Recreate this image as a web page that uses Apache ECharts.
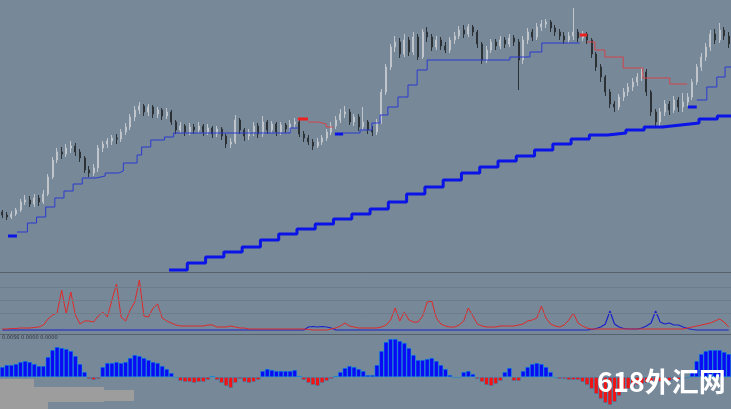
<!DOCTYPE html>
<html>
<head>
<meta charset="utf-8">
<script src="https://cdn.jsdelivr.net/npm/echarts@6/dist/echarts.min.js"></script>
<style>
html,body{margin:0;padding:0;background:#778899;}
#c{width:731px;height:409px;}
</style>
</head>
<body>
<div id="c"></div>
<script>
// ---- price candles (arbitrary price units) ----
const opens = [60,57,55,58,62,70,72,68,74,70, 78,95,112,120,118,124,126,120,114,102, 99,104,124,128,131,134,133,140,145,155,
162,166,160,165,158,162,156,160,150,142, 146,140,145,142,146,140,144,138,143,136, 128,130,152,142,136,140,146,138,150,142,
148,140,147,143,148,150,138,134,130,126, 130,134,140,146,152,158,160,150,155,145, 150,142,140,150,180,205,225,230,218,232,
220,235,215,240,235,225,232,226,222,232, 236,242,238,245,240,228,212,222,230,226, 232,228,234,230,212,232,240,235,245,248,
250,244,240,236,232,236,240,234,238,232, 218,205,195,180,168,165,175,180,185,190, 195,200,180,160,150,160,168,162,172,165,
170,175,190,205,215,225,238,232,242,236];
const closes = [57,55,58,62,70,72,68,74,70,78, 95,112,120,118,124,126,120,114,102,99, 104,124,128,131,134,133,140,145,155,162,
166,160,165,158,162,156,160,150,142,146, 140,145,142,146,140,144,138,143,136,128, 130,152,142,136,140,146,138,150,142,148,
140,147,143,148,150,138,134,130,126,130, 134,140,146,152,158,160,150,155,145,150, 142,140,150,180,205,225,230,218,232,220,
235,215,240,235,225,232,226,222,232,236, 242,238,245,240,228,212,222,230,226,232, 228,234,230,212,232,240,235,245,248,250,
244,240,236,232,236,240,234,238,232,218, 205,195,180,168,165,175,180,185,190,195, 200,180,160,150,160,168,162,172,165,170,
175,190,205,215,225,238,232,242,236,228];
const lows = [54,52,53,56,60,67,65,65,66,68, 76,93,109,113,115,119,116,110,99,95, 96,100,120,124,127,128,130,137,142,151,
158,156,156,154,154,152,153,147,138,139, 136,137,138,139,136,137,134,135,132,124, 124,128,138,131,132,136,134,135,138,139,
136,137,139,140,144,135,130,127,122,124, 127,131,137,143,149,154,147,146,141,142, 138,136,137,148,177,202,220,214,215,216,
217,212,213,230,221,222,222,219,219,228, 233,234,235,236,224,208,209,219,222,223, 224,225,226,182,208,228,231,232,241,244,
240,236,232,228,229,232,230,231,228,214, 201,190,176,164,160,162,171,176,181,186, 191,176,156,145,146,156,157,159,160,160,
166,172,187,201,211,221,228,229,232,224];
const highs = [62,60,61,64,73,77,76,78,77,82, 98,115,124,125,128,131,129,123,116,106, 108,127,131,134,137,138,143,149,158,166,
170,168,168,167,165,164,164,162,152,150, 148,149,148,150,148,148,146,146,145,138, 134,157,154,144,143,150,149,156,152,151,
150,150,149,152,154,153,141,137,133,134, 137,143,150,156,163,166,163,158,158,165, 152,146,153,183,208,228,236,234,238,235,
240,238,243,245,238,236,235,230,235,240, 246,247,248,247,242,230,226,233,233,236, 235,238,237,233,236,244,243,249,252,253,
252,247,243,240,240,264,243,241,240,234, 220,208,197,183,171,178,184,189,194,199, 204,203,182,163,164,172,171,176,175,179,
179,193,208,219,229,242,243,249,245,240];

// ---- trailing stop lines: [bar position, level] ----
const blueThickA = [[1.75,36],[3.7,36]];
const blueTrailA = [[3.7,40],[6,49],[8,55],[10,65],[12,74],[14,81],[16,88],[18,94],[21,96],[23,99],[26,101],[27,109],[30,117],[31,125],[33,132],[36,135],[38,139],[63.5,144],[65.2,144]];
const redThickA = [[65.2,153],[67.4,153]];
const redTrailA = [[67.4,150],[69.6,148],[71.4,145],[72.9,145]];
const blueThickB = [[73.3,138],[75.1,138]];
const blueTrailB = [[75.1,139],[78.8,142],[81.4,149],[83.2,157],[84.9,165],[87.1,175],[89.3,187],[91.3,202],[93.5,212],[111.6,215],[116,220],[118.6,229],[126.9,229]];
const redThickB = [[126.9,237],[128.5,237]];
const redTrailB = [[128.5,230],[130.2,222],[132.4,215],[136.4,204],[140.7,194],[146.6,188],[150.4,188]];
const blueThickC = [[150.6,165],[152.5,165]];
const blueTrailC = [[152.5,172],[154.7,185],[156.9,195],[158.7,205],[160,205]];

// ---- long-term stop line ----
const longStepBars = [37,41,45,49,53,57,61,65,69,73,77,81,85,89,93,97,101,105,109,113,117,121,125,129,133,137,141,145,149,153,157];
const longStepLevels = [2,9,15,20,25,32,38,43,48,53,58,63,70,78,85,92,99,105,111,116,122,128,133,137,139,142,145,147,149,153,156];
const longStepEnd = 160;

// ---- middle indicator ----
const redLine = [1,1,1.5,1.5,2,2,2,2.5,3,5, 11,15,17,40,16,38,15,6,9,9, 8,14,18,13,30,46,13,9,20,28,
50,14,13,22,26,12,9,7,5,4, 4,4,4,4,4,5,5,3,3,3, 4,3,2,2,1,1,1,1,1,1,
1,1,1,1,1,1,1,0.5,0,0, 0,0,1,2,4,7,4,3,2,2, 2,2,2,3,5,10,22,9,18,10,
8,8,14,28,29,12,6,4,3,3, 5,9,22,14,6,4,3,3,3,4, 4,4,4,5,6,9,10,12,24,12,
6,4,3,5,10,17,7,4,2,1, 1,1,1,1,1,1,1,1,1,1, 1,1,1,1,1,1,1,1,1,1,
2,3,4,5,6,7,9,11,8,3];
const blueLine = [0,0,0,0,0,0,0,0,0,0, 0,0,0,0,0,0,0,0,0,0, 0,0,0,0,0,0,0,0,0,0,
0,0,0,0,0,0,0,0,0,0, 0,0,0,0,0,0,0,0,0,0, 0,0,0,0,0,0,0,0,0,0,
0,0,0,0,0,0,0,3,3.5,3, 3.5,3,2,0,0,0,0,0,0,0, 0,0,0,0,0,0,0,0,0,0,
0,0,0,0,0,0,0,0,0,0, 0,0,0,0,0,0,0,0,0,0, 0,0,0,0,0,0,0,0,0,0,
0,0,0,0,0,0,0,0,0,0.5, 1.5,3,6,19,6,3,1.5,1,1,1, 2,4,7,19,8,6,7,5,5,3,
1.5,0.5,0,0,0,0,0,0,0,0];
const midLevels = [17,30,43];

// ---- histogram ----
const hist = [10,12,12,13,15,16,15,13,11,11, 20,27,30,29,28,26,21,13,5,-2, -3,-2,10,14,14,15,14,15,19,22,
21,19,17,15,14,11,8,4,-1,-4, -5,-5,-6,-5,-5,-3,1,-3,-6,-9, -11,-6,-2,-5,-6,-5,-3,6,8,7,
6,6,6,6,7,1,-3,-6,-8,-9, -6,-4,-2,1,5,9,11,10,8,6, 2,2,12,26,35,38,38,36,34,29,
22,17,17,18,19,16,12,8,2,-1, -1,5,6,3,-2,-5,-8,-9,-7,-4, 5,9,-4,-4,6,10,13,14,13,10,
5,-1,-2,-2,-3,-3,-3,-5,-8,-12, -17,-22,-26,-28,-25,-19,-15,-12,-10,-8, -7,-6,-6,-5,-5,-4,-4,-3,-3,-2,
-1,6,16,23,26,27,27,27,25,23];

const indicatorLabel = '0.0056 0.0000 0.0000';
const watermark = '618外汇网';

const cats = closes.map((_, i) => i);
const candleData = closes.map((c, i) => [opens[i], c, lows[i], highs[i]]);
const longData = longStepBars.map((b, k) => [b, longStepLevels[k]]).concat([[longStepEnd, longStepLevels[longStepLevels.length - 1]]]);

const sepColor = '#56616c';
function stepLine(data, color, width) {
  return { type: 'line', xAxisIndex: 1, yAxisIndex: 0, data: data, step: 'end', symbol: 'none',
    lineStyle: { color: color, width: width }, z: 5, silent: true };
}
const hidden = { show: false };

const chart = echarts.init(document.getElementById('c'), null, { renderer: 'canvas' });
chart.setOption({
  animation: false,
  backgroundColor: '#778899',
  grid: [
    { left: 0, right: 0, top: 0, height: 273 },
    { left: 0, right: 0, top: 274, height: 60 },
    { left: 0, right: 0, top: 335, height: 74 }
  ],
  xAxis: [
    { type: 'category', gridIndex: 0, data: cats, boundaryGap: true,
      axisLine: { show: true, lineStyle: { color: sepColor, width: 1 } }, axisTick: hidden, axisLabel: hidden, splitLine: hidden },
    { type: 'value', gridIndex: 0, min: 0, max: 160, show: false },
    { type: 'category', gridIndex: 1, data: cats, boundaryGap: true,
      axisLine: { show: true, onZero: false, lineStyle: { color: sepColor, width: 1 } }, axisTick: hidden, axisLabel: hidden, splitLine: hidden },
    { type: 'category', gridIndex: 2, data: cats, boundaryGap: true,
      axisLine: { show: false }, axisTick: hidden, axisLabel: hidden, splitLine: hidden }
  ],
  yAxis: [
    { type: 'value', gridIndex: 0, min: -1, max: 272, show: false },
    { type: 'value', gridIndex: 1, min: -4, max: 56, show: false },
    { type: 'value', gridIndex: 2, min: -32, max: 42, show: false }
  ],
  series: [
    { type: 'candlestick', xAxisIndex: 0, yAxisIndex: 0, data: candleData, barWidth: 1.5,
      itemStyle: { color: '#bfc5cb', color0: '#2c3136', borderColor: '#bfc5cb', borderColor0: '#2c3136', borderWidth: 1 } },
    stepLine(longData, '#0a14e6', 3),
    stepLine(blueTrailA, '#2b3bd0', 1),
    stepLine(blueThickA, '#0a14e6', 3),
    stepLine(redTrailA, '#d2454a', 1),
    stepLine(redThickA, '#ee2020', 3),
    stepLine(blueTrailB, '#2b3bd0', 1),
    stepLine(blueThickB, '#0a14e6', 3),
    stepLine(redTrailB, '#d2454a', 1),
    stepLine(redThickB, '#ee2020', 3),
    stepLine(blueTrailC, '#2b3bd0', 1),
    stepLine(blueThickC, '#0a14e6', 3),
    { type: 'line', xAxisIndex: 2, yAxisIndex: 1, data: blueLine, symbol: 'none',
      lineStyle: { color: '#1a22c8', width: 1.2 }, z: 3,
      markLine: { silent: true, symbol: 'none', label: hidden,
        lineStyle: { color: '#6f7c8a', width: 1, type: 'solid' },
        data: midLevels.map(v => ({ yAxis: v })) } },
    { type: 'line', xAxisIndex: 2, yAxisIndex: 1, data: redLine, symbol: 'none',
      lineStyle: { color: '#de2a2a', width: 1 }, z: 4 },
    { type: 'bar', xAxisIndex: 3, yAxisIndex: 2, data: hist, barCategoryGap: '0%',
      itemStyle: { color: p => p.value >= 0 ? '#0a0af5' : '#f01414',
        borderColor: p => p.value >= 0 ? '#14207a' : '#8a1a1a', borderWidth: 0.5 } }
  ],
  graphic: [
    { type: 'rect', left: 0, top: 379, shape: { width: 34, height: 30 }, style: { fill: '#9d9d9d' }, z: 20 },
    { type: 'rect', left: 0, top: 387, shape: { width: 104, height: 15 }, style: { fill: '#9d9d9d' }, z: 20 },
    { type: 'rect', left: 100, top: 390, shape: { width: 34, height: 11 }, style: { fill: '#9d9d9d' }, z: 20 },
    { type: 'rect', left: 0, top: 400, shape: { width: 48, height: 9 }, style: { fill: '#9d9d9d' }, z: 20 },
    { type: 'text', left: 2, top: 335, z: 20,
      style: { text: indicatorLabel, fill: '#2a2f35', font: '5px "DejaVu Sans"' } },
    { type: 'text', left: 597, top: 368, z: 30,
      style: { text: watermark, fill: '#ffffff', font: 'bold 27px "Noto Sans CJK SC"',
        shadowColor: 'rgba(0,0,0,0.35)', shadowBlur: 2, shadowOffsetX: 1, shadowOffsetY: 1 } }
  ]
});
</script>
</body>
</html>
